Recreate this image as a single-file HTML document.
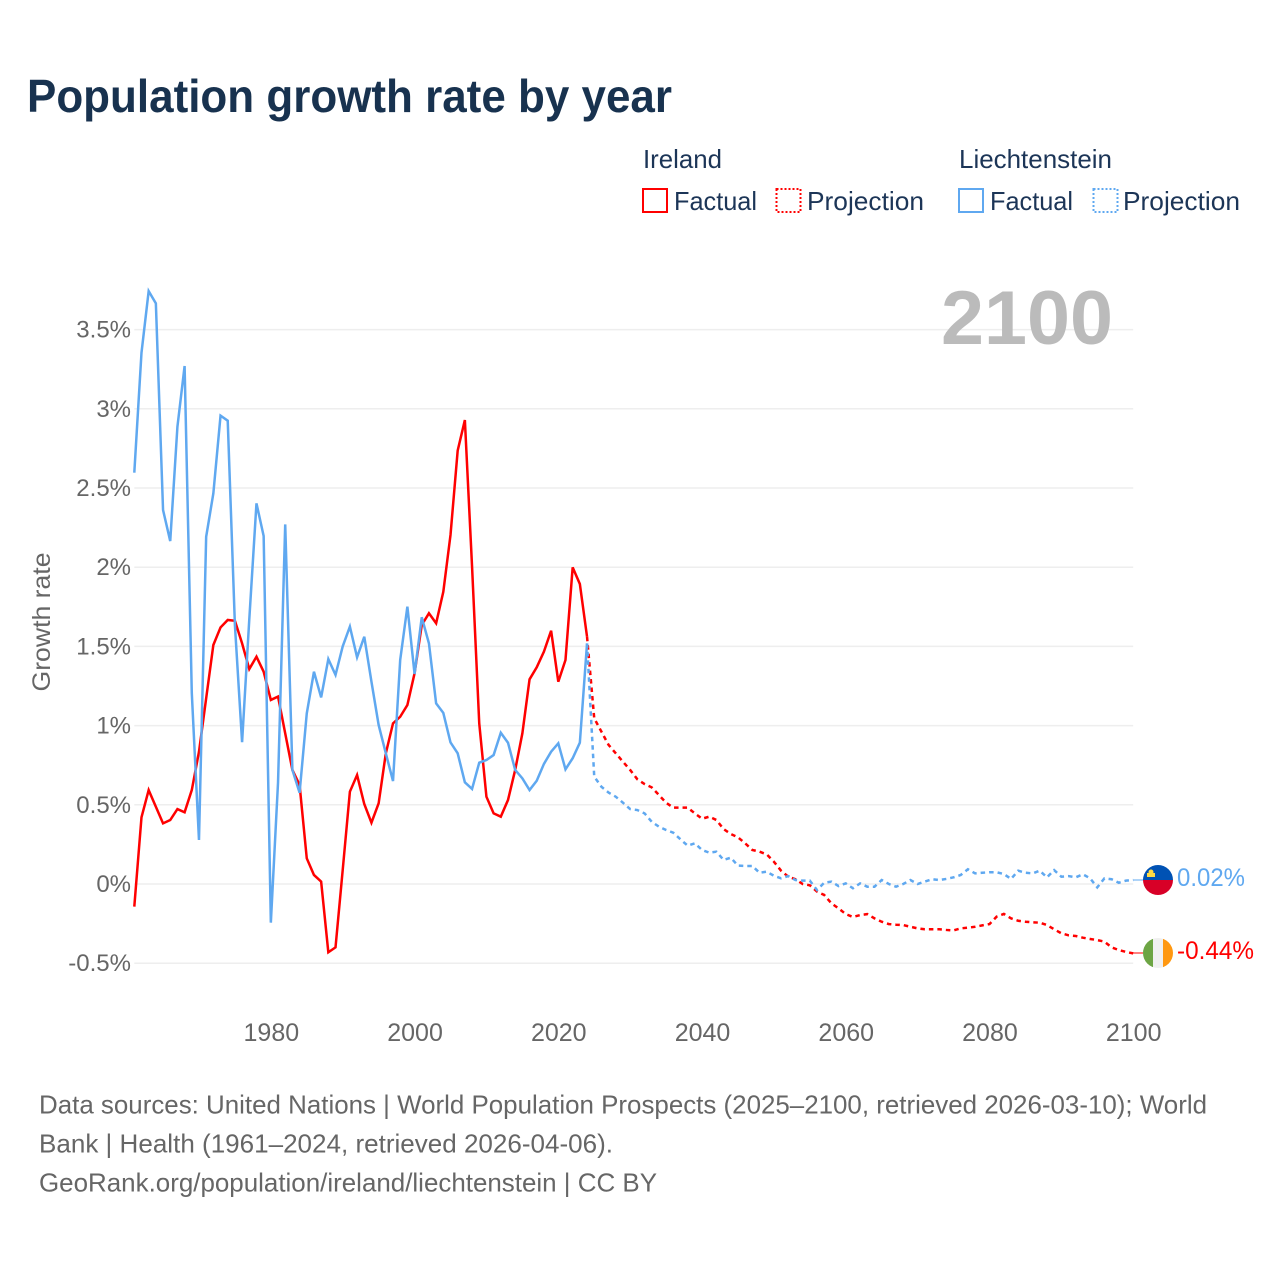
<!DOCTYPE html>
<html lang="en">
<head>
<meta charset="utf-8">
<title>Population growth rate by year</title>
<style>
html,body{margin:0;padding:0;background:#fff;}
svg{display:block;}
text{font-family:"Liberation Sans",sans-serif;}
</style>
</head>
<body>
<svg id="chart" xmlns="http://www.w3.org/2000/svg" width="1280" height="1280" viewBox="0 0 1280 1280">
  <rect x="0" y="0" width="1280" height="1280" fill="#ffffff"/>
  <text x="27" y="112" font-size="46" font-weight="700" fill="#18324f" textLength="645" lengthAdjust="spacingAndGlyphs">Population growth rate by year</text>

  <g font-size="26" fill="#1c3557">
    <text x="643" y="168" textLength="79" lengthAdjust="spacingAndGlyphs">Ireland</text>
    <text x="959" y="168" textLength="153" lengthAdjust="spacingAndGlyphs">Liechtenstein</text>
    <rect x="643" y="189" width="24" height="23" fill="none" stroke="#ff0000" stroke-width="2"/>
    <text x="674" y="210" textLength="83" lengthAdjust="spacingAndGlyphs">Factual</text>
    <rect x="776.5" y="189" width="24" height="23" fill="none" stroke="#ff0000" stroke-width="2" stroke-dasharray="2 2"/>
    <text x="807" y="210" textLength="117" lengthAdjust="spacingAndGlyphs">Projection</text>
    <rect x="959" y="189" width="24" height="23" fill="none" stroke="#5fa8f0" stroke-width="2"/>
    <text x="990" y="210" textLength="83" lengthAdjust="spacingAndGlyphs">Factual</text>
    <rect x="1093.5" y="189" width="24" height="23" fill="none" stroke="#5fa8f0" stroke-width="2" stroke-dasharray="2 2"/>
    <text x="1123" y="210" textLength="117" lengthAdjust="spacingAndGlyphs">Projection</text>
  </g>

  <g id="grid"></g>
  <g id="yticks"></g>
  <g id="xticks"></g>
  <text transform="translate(50,622) rotate(-90)" text-anchor="middle" font-size="25" fill="#666666" textLength="139" lengthAdjust="spacingAndGlyphs">Growth rate</text>
  <text x="941" y="344" font-size="76" font-weight="700" fill="#bbbbbb" textLength="172" lengthAdjust="spacingAndGlyphs">2100</text>

  <g id="series"></g>

  <g>
    <defs>
      <clipPath id="flagClipLi"><circle cx="1158" cy="880" r="15"/></clipPath>
      <clipPath id="flagClipIe"><circle cx="1158" cy="953" r="15"/></clipPath>
    </defs>
    <line x1="1133" y1="880" x2="1143" y2="880" stroke="#5fa8f0" stroke-width="1"/>
    <g clip-path="url(#flagClipLi)">
      <rect x="1143" y="865" width="30" height="15" fill="#0052b4"/>
      <rect x="1143" y="880" width="30" height="15" fill="#d80027"/>
      <rect x="1147" y="873" width="8" height="4" fill="#ffda44"/>
      <circle cx="1151" cy="872" r="2.5" fill="#ffda44"/>
    </g>
    <text x="1177" y="886" font-size="25" fill="#5fa8f0" textLength="68" lengthAdjust="spacingAndGlyphs">0.02%</text>
  </g>
  <g>
    <line x1="1133" y1="953" x2="1143" y2="953" stroke="#ff0000" stroke-width="1"/>
    <g clip-path="url(#flagClipIe)">
      <rect x="1143" y="938" width="10" height="30" fill="#6da544"/>
      <rect x="1153" y="938" width="10" height="30" fill="#f0f0f0"/>
      <rect x="1163" y="938" width="10" height="30" fill="#ff9811"/>
    </g>
    <text x="1177" y="959" font-size="25" fill="#ff0000" textLength="77" lengthAdjust="spacingAndGlyphs">-0.44%</text>
  </g>

  <g font-size="26" fill="#666666">
    <text x="39" y="1113.5" textLength="1168" lengthAdjust="spacingAndGlyphs">Data sources: United Nations | World Population Prospects (2025–2100, retrieved 2026-03-10); World</text>
    <text x="39" y="1152.5" textLength="574" lengthAdjust="spacingAndGlyphs">Bank | Health (1961–2024, retrieved 2026-04-06).</text>
    <text x="39" y="1191.5" textLength="618" lengthAdjust="spacingAndGlyphs">GeoRank.org/population/ireland/liechtenstein | CC BY</text>
  </g>
</svg>
<script>
const factualStartYear = 1961;
const projectionStartYear = 2024;
const xTickYears = [1980, 2000, 2020, 2040, 2060, 2080, 2100];
const yTickValues = [-0.5, 0, 0.5, 1, 1.5, 2, 2.5, 3, 3.5];

const irelandFactual = [
  -0.143, 0.421, 0.593, 0.488, 0.383, 0.404, 0.473, 0.453, 0.593, 0.835,
  1.172, 1.509, 1.62, 1.667, 1.662, 1.519, 1.357, 1.435, 1.34, 1.162,
  1.183, 0.951, 0.72, 0.625, 0.162, 0.057, 0.015, -0.431, -0.4, 0.088,
  0.583, 0.688, 0.505, 0.387, 0.509, 0.825, 1.014, 1.056, 1.13, 1.33,
  1.635, 1.709, 1.646, 1.845, 2.203, 2.736, 2.929, 2.003, 1.014, 0.551,
  0.446, 0.425, 0.53, 0.72, 0.951, 1.292, 1.368, 1.467, 1.599, 1.277,
  1.414, 1.999, 1.894, 1.561
];
const liechtensteinFactual = [
  2.597, 3.354, 3.743, 3.666, 2.361, 2.165, 2.887, 3.27, 1.206, 0.278,
  2.192, 2.466, 2.957, 2.925, 1.635, 0.895, 1.67, 2.403, 2.197, -0.244,
  0.64, 2.27, 0.72, 0.576, 1.077, 1.34, 1.178, 1.42, 1.32, 1.5,
  1.625, 1.431, 1.561, 1.277, 1.004, 0.825, 0.65, 1.414, 1.751, 1.326,
  1.684, 1.519, 1.14, 1.08, 0.894, 0.825, 0.642, 0.6, 0.766, 0.783,
  0.814, 0.955, 0.892, 0.72, 0.667, 0.593, 0.652, 0.758, 0.835, 0.888,
  0.724, 0.794, 0.892, 1.519
];
const irelandProjection = [
  1.561, 1.046, 0.962, 0.878, 0.825, 0.772, 0.72, 0.661, 0.631, 0.61,
  0.562, 0.513, 0.482, 0.482, 0.482, 0.446, 0.412, 0.425, 0.404, 0.347,
  0.316, 0.295, 0.257, 0.215, 0.204, 0.187, 0.141, 0.084, 0.046, 0.03,
  0, -0.008, -0.048, -0.069, -0.122, -0.154, -0.19, -0.208, -0.196, -0.19,
  -0.217, -0.238, -0.253, -0.257, -0.259, -0.27, -0.28, -0.286, -0.286, -0.286,
  -0.29, -0.293, -0.28, -0.276, -0.27, -0.261, -0.253, -0.206, -0.189, -0.217,
  -0.232, -0.238, -0.242, -0.244, -0.259, -0.286, -0.311, -0.324, -0.328, -0.339,
  -0.347, -0.354, -0.364, -0.4, -0.417, -0.429, -0.438
];
const liechtensteinProjection = [
  1.519, 0.678, 0.614, 0.577, 0.551, 0.513, 0.473, 0.467, 0.446, 0.393,
  0.362, 0.341, 0.324, 0.282, 0.242, 0.257, 0.215, 0.198, 0.204, 0.152,
  0.166, 0.116, 0.114, 0.114, 0.071, 0.078, 0.052, 0.036, 0.05, 0.025,
  0.021, 0.021, -0.038, 0.008, 0.015, -0.013, 0.004, -0.027, 0.004, -0.017,
  -0.017, 0.025, 0, -0.017, 0, 0.025, 0, 0.015, 0.03, 0.025,
  0.032, 0.042, 0.057, 0.093, 0.067, 0.071, 0.074, 0.074, 0.063, 0.032,
  0.084, 0.071, 0.067, 0.084, 0.042, 0.088, 0.046, 0.05, 0.042, 0.061,
  0.036, -0.021, 0.036, 0.03, 0.008, 0.021, 0.025
];

const SVG_NS = 'http://www.w3.org/2000/svg';
const plotLeft = 134.3;
const plotRight = 1133.2;
const yZero = 884;
const pxPerPercent = 158.4;
const xScale = (plotRight - plotLeft) / (2100 - 1961);

function xPos(year) {
  return plotLeft + (year - 1961) * xScale;
}
function yPos(value) {
  return yZero - value * pxPerPercent;
}
function linePath(startYear, values) {
  return values.map(function (v, i) {
    return (i ? 'L' : 'M') + xPos(startYear + i).toFixed(2) + ' ' + yPos(v).toFixed(2);
  }).join(' ');
}

const gridGroup = document.getElementById('grid');
const yTickGroup = document.getElementById('yticks');
const xTickGroup = document.getElementById('xticks');
const seriesGroup = document.getElementById('series');

yTickValues.forEach(function (v) {
  const line = document.createElementNS(SVG_NS, 'line');
  
  
  line.setAttribute('x1', plotLeft);
  line.setAttribute('x2', plotRight);
  line.setAttribute('y1', yPos(v));
  line.setAttribute('y2', yPos(v));
  line.setAttribute('stroke', '#eeeeee');
  line.setAttribute('stroke-width', '1.5');
  gridGroup.appendChild(line);

  const label = document.createElementNS(SVG_NS, 'text');
  
  
  label.setAttribute('x', 131);
  label.setAttribute('y', yPos(v) + 8);
  label.setAttribute('text-anchor', 'end');
  label.setAttribute('font-size', '24');
  label.setAttribute('fill', '#666666');
  label.textContent = v + '%';
  yTickGroup.appendChild(label);
});

xTickYears.forEach(function (year) {
  const label = document.createElementNS(SVG_NS, 'text');
  
  
  label.setAttribute('x', xPos(year) + 0.5);
  label.setAttribute('y', 1041);
  label.setAttribute('text-anchor', 'middle');
  label.setAttribute('font-size', '25');
  label.setAttribute('fill', '#666666');
  label.textContent = year;
  xTickGroup.appendChild(label);
});

function drawSeries(name, startYear, values, color, dashed) {
  const path = document.createElementNS(SVG_NS, 'path');
  
  
  path.setAttribute('d', linePath(startYear, values));
  path.setAttribute('fill', 'none');
  path.setAttribute('stroke', color);
  path.setAttribute('stroke-width', '2.5');
  path.setAttribute('stroke-linejoin', 'miter');
  if (dashed) {
    path.setAttribute('stroke-dasharray', '4.5 4');
  }
  seriesGroup.appendChild(path);
}

drawSeries('line-ireland-factual', factualStartYear, irelandFactual, '#ff0000', false);
drawSeries('line-ireland-projection', projectionStartYear, irelandProjection, '#ff0000', true);
drawSeries('line-liechtenstein-factual', factualStartYear, liechtensteinFactual, '#5fa8f0', false);
drawSeries('line-liechtenstein-projection', projectionStartYear, liechtensteinProjection, '#5fa8f0', true);
</script>
</body>
</html>
